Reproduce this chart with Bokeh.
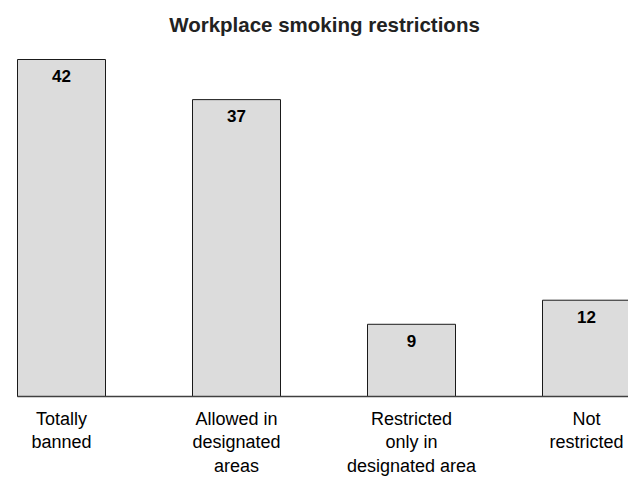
from bokeh.plotting import figure
from bokeh.models import Range1d, Label
from bokeh.core.properties import value
from bokeh.embed import file_html
from bokeh.resources import INLINE

categories = ["Totally\nbanned", "Allowed in\ndesignated\nareas",
              "Restricted\nonly in\ndesignated area", "Not\nrestricted"]
values = [42, 37, 9, 12]
title_text = "Workplace smoking restrictions"

W, H = 628, 478
PX_PER_CAT = 175.0
FIRST_CENTER_PX = 61.0
BASE_PX = 396.0
PX_PER_UNIT = 337.0 / 42.0

x_start = -FIRST_CENTER_PX / PX_PER_CAT
x_end = x_start + W / PX_PER_CAT
y_end = BASE_PX / PX_PER_UNIT
y_start = y_end - H / PX_PER_UNIT

FONT = "Liberation Sans"

p = figure(width=W, height=H, output_backend="svg", toolbar_location=None,
           x_range=Range1d(x_start, x_end), y_range=Range1d(y_start, y_end),
           x_axis_type=None, y_axis_type=None, min_border=0, title=None)
p.outline_line_color = None
p.background_fill_color = "white"
p.border_fill_color = "white"

xs = list(range(len(values)))
bw = 88.0 / PX_PER_CAT

p.vbar(x=xs, top=values, bottom=0, width=bw, fill_color="#dcdcdc",
       line_color="#1a1a1a", line_width=1)

# baseline
p.line(x=[xs[0] - bw / 2, x_end + 1], y=[0, 0], line_color="#404040", line_width=1.5)

# value labels
p.text(x=xs, y=values, text=[str(v) for v in values], text_align="center",
       text_baseline="alphabetic", y_offset=16.5, text_font=value(FONT),
       text_font_style="bold", text_font_size="17px", text_color="black")

# category labels
p.text(x=xs, y=[0] * len(xs), text=categories, text_align="center",
       text_baseline="top", y_offset=12, text_font=value(FONT),
       text_font_size="18px", text_line_height=1.19, text_color="black")

title = Label(x=x_start + 324.0 / PX_PER_CAT, y=y_end - 24.0 / PX_PER_UNIT,
              text=title_text, text_align="center", text_baseline="alphabetic",
              text_font=FONT, text_font_style="bold", text_font_size="20.5px",
              text_color="#222222")
p.add_layout(title)

open("out.html", "w").write(file_html(p, INLINE))
